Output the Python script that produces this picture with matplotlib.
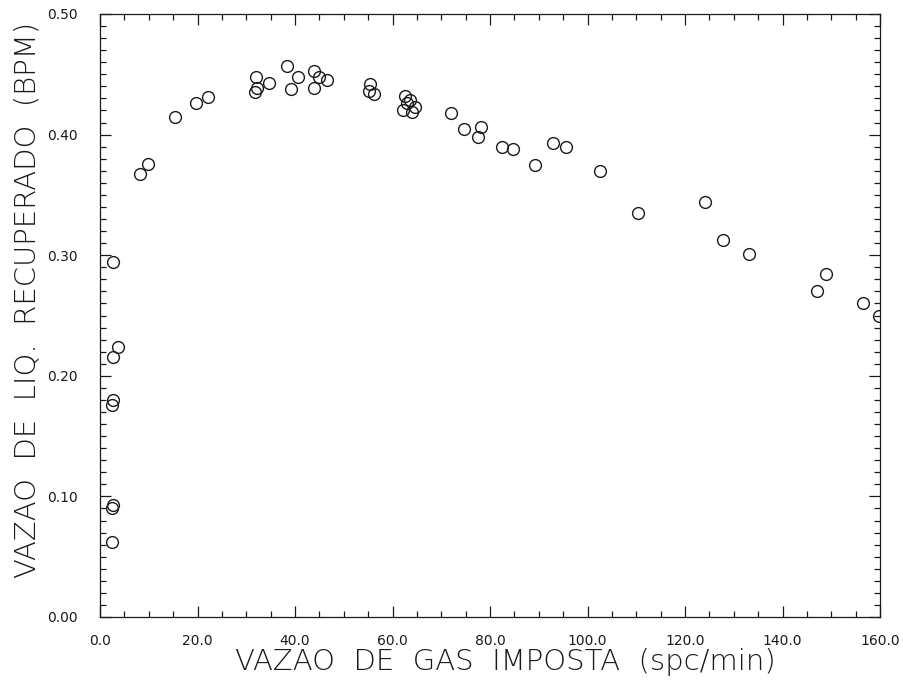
import matplotlib
matplotlib.use("Agg")
import matplotlib.pyplot as plt
from matplotlib.ticker import MultipleLocator, FormatStrFormatter

# Data
gas_rate = [2.6, 3.7, 2.7, 2.5, 2.7, 2.5, 2.7, 2.5,
            8.2, 9.8, 15.4, 19.7, 22.2,
            32.1, 32.2, 31.8, 34.7, 38.3, 40.6, 39.1,
            43.9, 43.9, 44.9, 46.5,
            55.4, 55.2, 56.2,
            62.6, 63.6, 62.2, 64.0, 64.6, 63.0,
            72.0, 74.7, 78.2, 77.5, 82.5, 84.7, 89.2, 92.9, 95.6,
            102.6, 110.4, 124.1, 127.8, 133.1, 148.9, 147.0, 156.5, 159.8]
liq_rate = [0.294, 0.224, 0.216, 0.176, 0.180, 0.090, 0.093, 0.062,
            0.367, 0.376, 0.415, 0.426, 0.431,
            0.448, 0.439, 0.435, 0.443, 0.457, 0.448, 0.438,
            0.453, 0.439, 0.448, 0.445,
            0.442, 0.436, 0.434,
            0.432, 0.429, 0.420, 0.419, 0.423, 0.426,
            0.418, 0.405, 0.406, 0.398, 0.390, 0.388, 0.375, 0.393, 0.390,
            0.370, 0.335, 0.344, 0.313, 0.301, 0.284, 0.270, 0.260, 0.250]

x_label = "VAZAO  DE  GAS  IMPOSTA  (spc/min)"
y_label = "VAZAO  DE  LIQ.  RECUPERADO  (BPM)"

ink = "#1a1a1a"
W, H = 904, 682
fig = plt.figure(figsize=(W / 100, H / 100), dpi=100)
ax = fig.add_axes([100 / W, 1 - 617 / H, 780 / W, 603 / H])

ax.plot(gas_rate, liq_rate, linestyle="none", marker="o", markersize=8.5,
        markerfacecolor="none", markeredgecolor=ink, markeredgewidth=1.0)

ax.set_xlim(0, 160)
ax.set_ylim(0, 0.50)
ax.xaxis.set_major_locator(MultipleLocator(20))
ax.xaxis.set_minor_locator(MultipleLocator(5))
ax.yaxis.set_major_locator(MultipleLocator(0.10))
ax.yaxis.set_minor_locator(MultipleLocator(0.01))
ax.xaxis.set_major_formatter(FormatStrFormatter("%.1f"))
ax.yaxis.set_major_formatter(FormatStrFormatter("%.2f"))

ax.tick_params(which="both", direction="in", top=True, right=True,
               color=ink, width=0.9, labelsize=10, labelcolor=ink)
ax.tick_params(which="major", length=8)
ax.tick_params(which="minor", length=4)
ax.tick_params(axis="y", which="major", pad=16)
ax.tick_params(axis="x", which="major", pad=12)
for s in ax.spines.values():
    s.set_color(ink)
    s.set_linewidth(0.9)

fig.text(505 / W, 1 - 662 / H, x_label, fontsize=21, color=ink,
         fontweight="light", ha="center", va="center")
fig.text(28 / W, 1 - 300 / H, y_label, fontsize=21, color=ink,
         fontweight="light", ha="center", va="center", rotation=90)

fig.savefig("out.png", dpi=100)
